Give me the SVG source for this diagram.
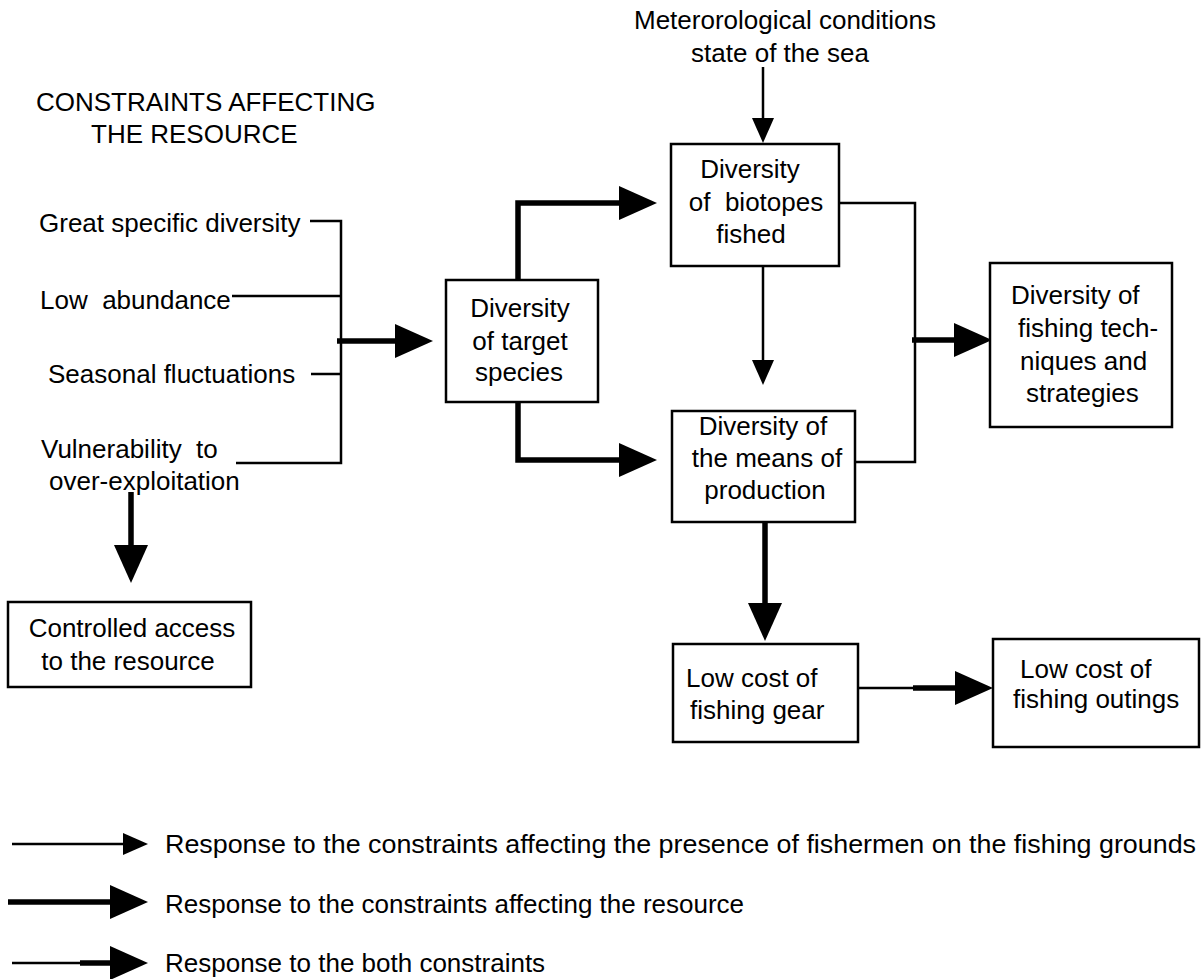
<svg xmlns="http://www.w3.org/2000/svg" width="1201" height="979" viewBox="0 0 1201 979">
<defs>
<style>
text{font-family:"Liberation Sans",Arial,sans-serif;font-size:26px;fill:#000}
.m{text-anchor:middle}
.box{fill:#fff;stroke:#000;stroke-width:2.5}
.thin{fill:none;stroke:#000;stroke-width:2.5}
.thick{fill:none;stroke:#000;stroke-width:5.5}
.ta{marker-end:url(#ahThin)}
.tk{marker-end:url(#ahThick)}
</style>
<marker id="ahThin" markerUnits="userSpaceOnUse" markerWidth="26" markerHeight="22" refX="0" refY="11" orient="auto" overflow="visible"><path d="M0,0 L25,11 L0,22 Z" fill="#000"/></marker>
<marker id="ahThick" markerUnits="userSpaceOnUse" markerWidth="39" markerHeight="34" refX="0" refY="17" orient="auto" overflow="visible"><path d="M0,0 L38,17 L0,34 Z" fill="#000"/></marker>
</defs>
<rect width="1201" height="979" fill="#fff"/>

<g id="heading">
<text x="36" y="111">CONSTRAINTS AFFECTING</text>
<text x="91" y="143">THE RESOURCE</text>
</g>
<g id="constraints">
<text x="39" y="232">Great specific diversity</text>
<text x="40" y="309">Low&#160; abundance</text>
<text x="48" y="383">Seasonal fluctuations</text>
<text x="41" y="458">Vulnerability&#160; to</text>
<text x="49" y="490">over-exploitation</text>
</g>
<g id="meteo">
<text class="m" x="785" y="29">Meterorological conditions</text>
<text class="m" x="780" y="62">state of the sea</text>
</g>

<g id="connectors">
<path class="thin" d="M310,221 H341 V463 H236 M232,296 H341 M311,374 H341"/>
<path class="thick tk" d="M337,341 H395"/>
<path class="thick tk" d="M518,280 V203 H619"/>
<path class="thick tk" d="M518,402 V460 H619"/>
<path class="thin ta" d="M763,67 V118"/>
<path class="thin ta" d="M763,266 V360"/>
<path class="thin" d="M839,203 H915 V462 H855"/>
<path class="thick tk" d="M912,340 H954"/>
<path class="thick tk" d="M765,522 V603"/>
<path class="thin" d="M858,688 H914"/>
<path class="thick tk" d="M913,688 H955"/>
<path class="thick tk" d="M131,492 V545"/>
</g>

<g id="target">
<rect class="box" x="446" y="280" width="152" height="122"/>
<text class="m" x="520" y="317">Diversity</text>
<text class="m" x="520" y="350">of target</text>
<text class="m" x="519" y="381">species</text>
</g>
<g id="biotopes">
<rect class="box" x="671" y="144" width="168" height="122"/>
<text class="m" x="750" y="178">Diversity</text>
<text class="m" x="756" y="211">of&#160; biotopes</text>
<text class="m" x="751" y="243">fished</text>
</g>
<g id="production">
<rect class="box" x="672" y="411" width="183" height="111"/>
<text class="m" x="763" y="435">Diversity of</text>
<text class="m" x="767" y="467">the means of</text>
<text class="m" x="765" y="499">production</text>
</g>
<g id="techniques">
<rect class="box" x="990" y="263" width="182" height="164"/>
<text x="1011" y="304">Diversity of</text>
<text x="1018" y="337">fishing tech-</text>
<text x="1020" y="370">niques and</text>
<text x="1026" y="402">strategies</text>
</g>
<g id="access">
<rect class="box" x="8" y="602" width="243" height="85"/>
<text class="m" x="132" y="637">Controlled access</text>
<text class="m" x="128" y="670">to the resource</text>
</g>
<g id="gear">
<rect class="box" x="673" y="644" width="185" height="98"/>
<text x="686" y="687">Low cost of</text>
<text x="690" y="719">fishing gear</text>
</g>
<g id="outings">
<rect class="box" x="993" y="639" width="206" height="108"/>
<text x="1020" y="678">Low cost of</text>
<text x="1013" y="708">fishing outings</text>
</g>

<g id="legend">
<path class="thin ta" d="M12,844 H123"/>
<text x="165" y="853" textLength="1031" lengthAdjust="spacingAndGlyphs">Response to the constraints affecting the presence of fishermen on the fishing grounds</text>
<path class="thick tk" d="M8,902 H110"/>
<text x="165" y="913">Response to the constraints affecting the resource</text>
<path class="thin" d="M12,963 H82"/>
<path class="thick tk" d="M80,963 H110"/>
<text x="165" y="972">Response to the both constraints</text>
</g>
</svg>
